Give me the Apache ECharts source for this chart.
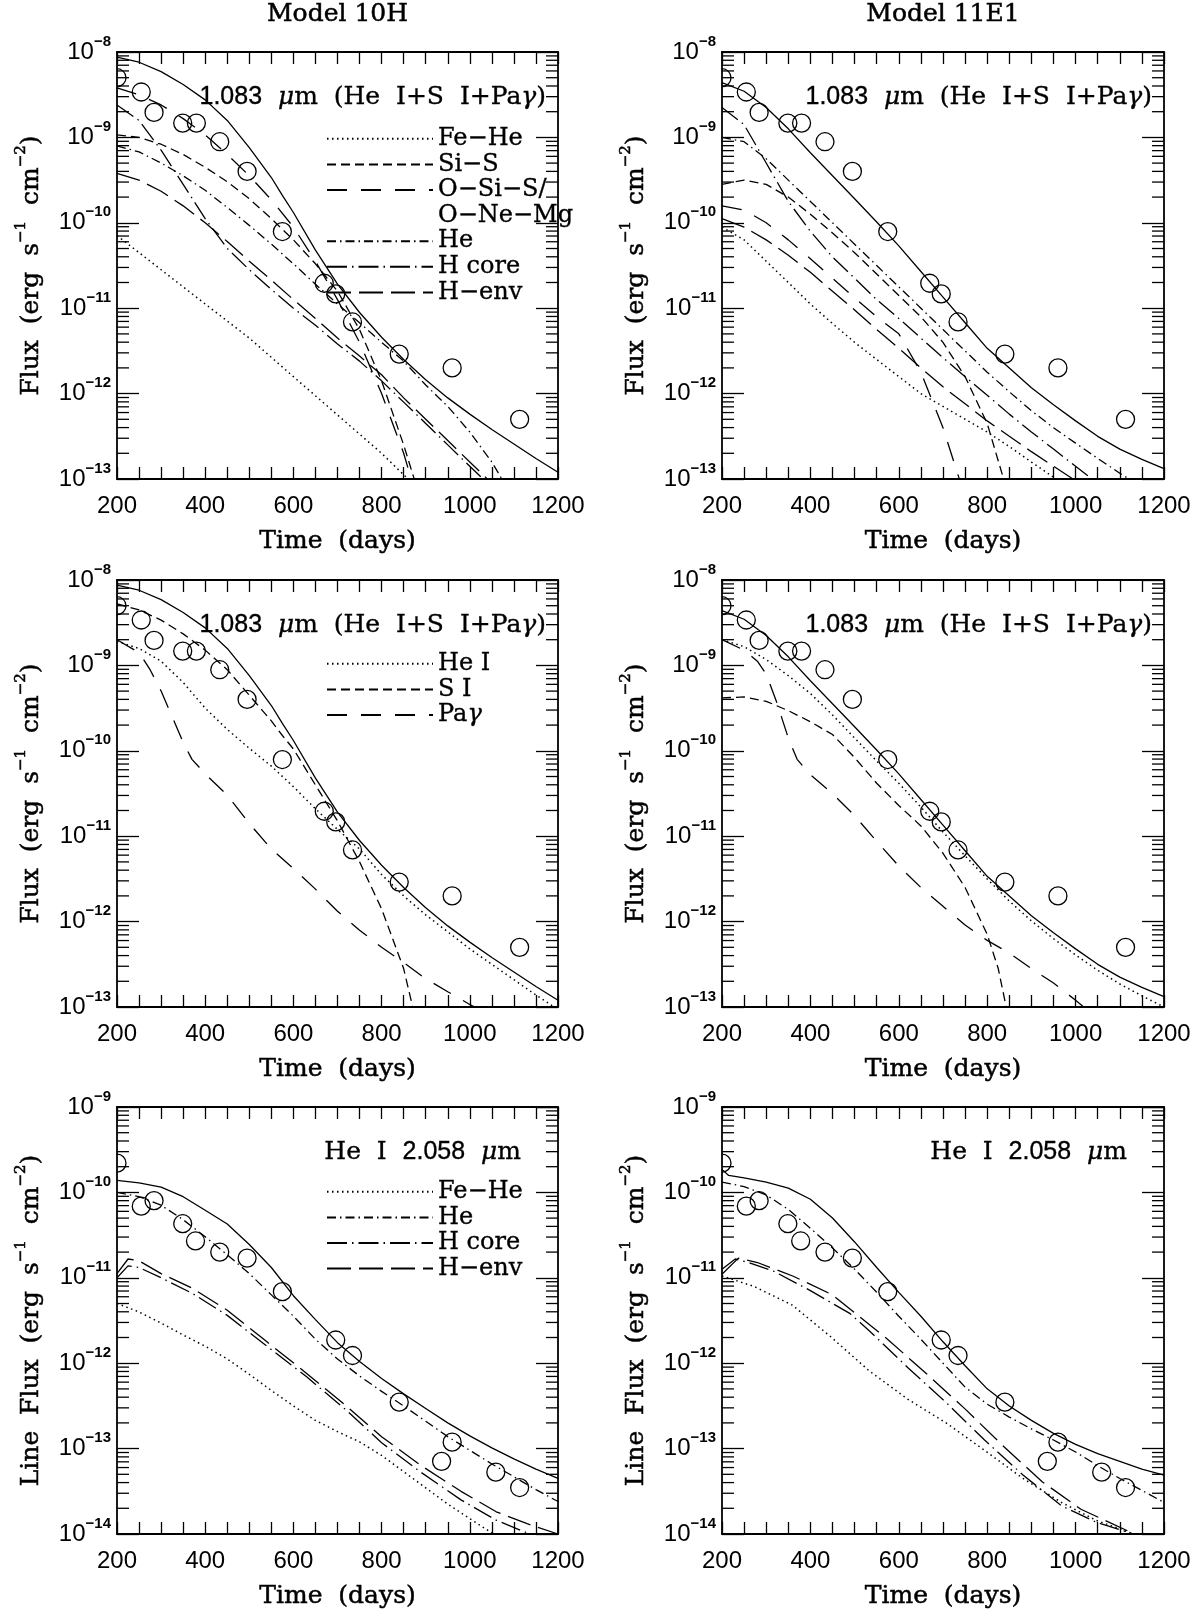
<!DOCTYPE html>
<html>
<head>
<meta charset="utf-8">
<title>He I 1.083 / 2.058 micron line fluxes</title>
<script src="https://cdn.jsdelivr.net/npm/echarts@6/dist/echarts.min.js"></script>
<style>
html,body{margin:0;padding:0;background:#ffffff;}
#chart{width:1203px;height:1613px;}
</style>
</head>
<body>
<div id="chart"></div>
<script>
// ---------------- observed points ----------------
const obs1083 = [[200,5.0e-9],[255,3.4e-9],[284,1.96e-9],[349,1.47e-9],[380,1.47e-9],[433,8.9e-10],[495,4.0e-10],[575,7.9e-11],[670,1.96e-11],[696,1.47e-11],[734,6.9e-12],[840,2.9e-12],[960,2.0e-12],[1113,5.0e-13]];
const obs2058 = [[200,2.2e-10],[255,6.9e-11],[284,8.0e-11],[349,4.3e-11],[378,2.7e-11],[433,2.0e-11],[495,1.7e-11],[575,6.9e-12],[696,1.87e-12],[734,1.23e-12],[840,3.5e-13],[936,7.1e-14],[960,1.19e-13],[1059,5.3e-14],[1113,3.5e-14]];

// ---------------- Model 10H, 1.083 micron ----------------
const m10H_total = [[200,8.71e-9],[250,7.59e-9],[300,5.89e-9],[350,4.17e-9],[400,2.75e-9],[450,1.58e-9],[500,7.59e-10],[550,3.39e-10],[575,2.09e-10],[600,1.32e-10],[650,4.79e-11],[700,1.91e-11],[750,8.91e-12],[800,4.57e-12],[850,2.51e-12],[900,1.45e-12],[950,8.91e-13],[1000,5.75e-13],[1050,3.80e-13],[1100,2.57e-13],[1150,1.74e-13],[1200,1.20e-13]];
const m10H_FeHe = [[200,7.08e-11],[250,4.47e-11],[300,2.82e-11],[400,1.12e-11],[500,4.47e-12],[600,1.58e-12],[700,5.62e-13],[800,2.0e-13],[850,1.12e-13],[870,8.91e-14]];
const m10H_SiS = [[200,1.07e-9],[250,1.0e-9],[300,8.32e-10],[350,6.31e-10],[400,4.47e-10],[450,3.02e-10],[500,1.91e-10],[550,1.12e-10],[600,6.31e-11],[650,3.31e-11],[700,1.58e-11],[750,5.62e-12],[800,1.41e-12],[850,2.51e-13],[880,7.94e-14]];
const m10H_OSiS = [[200,3.80e-9],[250,3.16e-9],[300,2.40e-9],[350,1.66e-9],[400,1.07e-9],[450,6.31e-10],[500,3.55e-10],[550,1.86e-10],[600,8.91e-11],[650,3.55e-11],[700,1.26e-11],[750,3.98e-12],[800,1.0e-12],[850,2.0e-13],[870,8.91e-14]];
const m10H_He = [[200,7.94e-10],[250,6.76e-10],[300,5.01e-10],[350,3.55e-10],[400,2.40e-10],[450,1.51e-10],[500,9.33e-11],[550,5.62e-11],[600,3.31e-11],[650,1.91e-11],[700,1.12e-11],[750,6.76e-12],[800,3.98e-12],[850,2.40e-12],[900,1.26e-12],[950,7.08e-13],[1000,3.55e-13],[1050,1.58e-13],[1075,9.55e-14]];
const m10H_Hcore = [[200,2.40e-9],[250,1.58e-9],[300,7.08e-10],[350,2.82e-10],[400,1.12e-10],[450,5.01e-11],[500,2.82e-11],[550,1.66e-11],[600,1.0e-11],[650,6.31e-12],[700,3.80e-12],[750,2.40e-12],[800,1.41e-12],[850,7.94e-13],[900,4.47e-13],[950,2.51e-13],[1000,1.41e-13],[1040,8.91e-14]];
const m10H_Henv = [[200,3.80e-10],[250,3.16e-10],[300,2.34e-10],[350,1.58e-10],[400,1.0e-10],[450,6.03e-11],[500,3.55e-11],[550,2.14e-11],[600,1.26e-11],[650,7.59e-12],[700,4.47e-12],[750,2.75e-12],[800,1.66e-12],[850,8.91e-13],[900,5.01e-13],[950,2.82e-13],[1000,1.58e-13],[1050,8.91e-14]];
const m10H_HeI = [[200,1.91e-9],[250,1.58e-9],[300,1.12e-9],[350,6.31e-10],[400,3.16e-10],[450,1.78e-10],[500,1.07e-10],[550,6.61e-11],[600,3.80e-11],[650,2.09e-11],[700,1.20e-11],[750,7.08e-12],[800,3.55e-12],[850,2.0e-12],[900,1.20e-12],[950,7.59e-13],[1000,4.79e-13],[1050,3.16e-13],[1100,2.09e-13],[1150,1.38e-13],[1200,9.33e-14]];
const m10H_SI = [[200,5.25e-9],[250,4.47e-9],[300,3.39e-9],[350,2.34e-9],[400,1.51e-9],[450,8.91e-10],[500,4.47e-10],[550,2.24e-10],[575,1.51e-10],[600,1.05e-10],[650,3.98e-11],[700,1.51e-11],[750,5.01e-12],[800,1.41e-12],[850,2.82e-13],[875,7.94e-14]];
const m10H_Pag = [[200,2.0e-9],[250,1.41e-9],[275,8.91e-10],[300,5.01e-10],[325,2.51e-10],[350,1.26e-10],[370,7.94e-11],[400,5.37e-11],[450,3.02e-11],[500,1.41e-11],[550,7.08e-12],[600,4.17e-12],[650,2.40e-12],[700,1.32e-12],[750,7.94e-13],[800,5.01e-13],[850,3.31e-13],[900,2.14e-13],[950,1.51e-13],[1000,1.07e-13],[1050,7.94e-14]];

// ---------------- Model 11E1, 1.083 micron ----------------
const m11E1_total = [[200,4.37e-9],[250,3.47e-9],[300,2.24e-9],[350,1.26e-9],[400,6.61e-10],[450,3.55e-10],[500,1.91e-10],[550,1.02e-10],[600,5.37e-11],[650,2.69e-11],[700,1.35e-11],[750,6.76e-12],[800,3.39e-12],[850,2.0e-12],[900,1.17e-12],[950,7.41e-13],[1000,4.79e-13],[1050,3.16e-13],[1100,2.24e-13],[1150,1.70e-13],[1200,1.32e-13]];
const m11E1_FeHe = [[200,8.91e-11],[250,6.31e-11],[300,3.55e-11],[350,2.0e-11],[400,1.12e-11],[450,6.61e-12],[500,3.98e-12],[550,2.51e-12],[600,1.58e-12],[650,1.0e-12],[700,7.08e-13],[750,5.01e-13],[800,3.55e-13],[850,2.40e-13],[900,1.58e-13],[950,1.05e-13],[980,8.32e-14]];
const m11E1_SiS = [[200,2.82e-10],[250,3.16e-10],[300,2.82e-10],[350,2.0e-10],[400,1.26e-10],[450,7.59e-11],[500,4.47e-11],[550,2.51e-11],[600,1.41e-11],[650,7.94e-12],[700,3.98e-12],[750,1.58e-12],[800,4.47e-13],[840,8.91e-14]];
const m11E1_OSiS = [[200,1.58e-10],[250,1.41e-10],[300,1.0e-10],[350,6.31e-11],[400,3.80e-11],[450,2.24e-11],[500,1.32e-11],[550,7.94e-12],[600,5.01e-12],[650,1.78e-12],[700,3.98e-13],[740,8.91e-14]];
const m11E1_He = [[200,1.0e-9],[250,8.91e-10],[300,5.62e-10],[350,3.16e-10],[400,1.78e-10],[450,1.0e-10],[500,5.62e-11],[550,3.16e-11],[600,1.78e-11],[650,1.0e-11],[700,5.62e-12],[750,3.16e-12],[800,1.78e-12],[850,1.05e-12],[900,6.31e-13],[950,3.98e-13],[1000,2.63e-13],[1050,1.74e-13],[1100,1.17e-13],[1130,9.33e-14]];
const m11E1_Hcore = [[200,2.24e-9],[250,1.41e-9],[300,5.01e-10],[350,1.78e-10],[400,7.94e-11],[450,3.98e-11],[500,2.24e-11],[550,1.26e-11],[600,7.59e-12],[650,4.47e-12],[700,2.63e-12],[750,1.58e-12],[800,9.55e-13],[850,5.75e-13],[900,3.55e-13],[950,2.24e-13],[1000,1.41e-13],[1050,8.91e-14]];
const m11E1_Henv = [[200,1.12e-10],[250,8.91e-11],[300,6.31e-11],[350,4.17e-11],[400,2.63e-11],[450,1.58e-11],[500,9.55e-12],[550,5.62e-12],[600,3.39e-12],[650,2.0e-12],[700,1.20e-12],[750,7.59e-13],[800,4.79e-13],[850,3.16e-13],[900,2.09e-13],[950,1.41e-13],[1000,9.55e-14]];
const m11E1_HeI = [[200,2.0e-9],[250,1.66e-9],[300,1.17e-9],[350,7.59e-10],[400,4.68e-10],[450,2.63e-10],[500,1.41e-10],[550,7.59e-11],[600,4.17e-11],[650,2.19e-11],[700,1.12e-11],[750,5.89e-12],[800,3.16e-12],[850,1.74e-12],[900,1.02e-12],[950,6.31e-13],[1000,4.07e-13],[1050,2.69e-13],[1100,1.86e-13],[1150,1.35e-13],[1200,1.0e-13]];
const m11E1_SI = [[200,4.17e-10],[250,4.27e-10],[300,3.80e-10],[350,2.95e-10],[400,2.19e-10],[450,1.55e-10],[500,8.32e-11],[550,4.17e-11],[600,2.29e-11],[650,1.32e-11],[700,6.31e-12],[750,2.51e-12],[800,7.08e-13],[825,2.82e-13],[845,8.91e-14]];
const m11E1_Pag = [[200,2.0e-9],[250,1.51e-9],[280,1.12e-9],[300,7.94e-10],[325,3.55e-10],[350,1.41e-10],[370,7.94e-11],[400,5.25e-11],[450,3.16e-11],[500,1.74e-11],[550,8.71e-12],[600,4.47e-12],[650,2.51e-12],[700,1.51e-12],[750,9.12e-13],[800,6.03e-13],[850,4.27e-13],[900,2.82e-13],[950,1.91e-13],[1000,1.20e-13],[1030,8.91e-14]];

// ---------------- He I 2.058 micron ----------------
const m10H_2um_total = [[200,1.38e-10],[250,1.29e-10],[300,1.15e-10],[350,8.91e-11],[400,6.17e-11],[450,4.27e-11],[500,2.45e-11],[550,1.32e-11],[600,6.17e-12],[650,3.24e-12],[700,1.74e-12],[750,1.05e-12],[800,6.61e-13],[850,4.37e-13],[900,2.95e-13],[950,2.0e-13],[1000,1.41e-13],[1050,1.02e-13],[1100,7.59e-14],[1150,5.75e-14],[1200,4.47e-14]];
const m10H_2um_FeHe = [[200,5.01e-12],[250,3.98e-12],[300,2.95e-12],[350,2.14e-12],[400,1.58e-12],[450,1.12e-12],[500,7.41e-13],[550,4.79e-13],[600,3.16e-13],[650,2.14e-13],[700,1.58e-13],[750,1.20e-13],[800,8.32e-14],[850,5.37e-14],[900,3.47e-14],[950,2.24e-14],[1000,1.51e-14],[1060,9.55e-15]];
const m10H_2um_He = [[200,1.0e-10],[250,8.91e-11],[300,7.08e-11],[350,4.79e-11],[400,3.02e-11],[450,1.86e-11],[500,1.12e-11],[550,6.31e-12],[600,3.55e-12],[650,1.91e-12],[700,1.12e-12],[750,7.08e-13],[800,4.68e-13],[850,3.16e-13],[900,2.09e-13],[950,1.38e-13],[1000,9.55e-14],[1050,6.61e-14],[1100,4.68e-14],[1150,3.31e-14],[1200,2.40e-14]];
const m10H_2um_Hcore = [[200,1.0e-11],[225,1.38e-11],[250,1.32e-11],[300,1.0e-11],[370,6.61e-12],[450,3.63e-12],[540,1.58e-12],[630,6.92e-13],[720,2.82e-13],[800,1.17e-13],[890,5.25e-14],[980,2.51e-14],[1060,1.45e-14],[1150,9.33e-15]];
const m10H_2um_Henv = [[200,1.12e-11],[225,1.66e-11],[250,1.58e-11],[300,1.12e-11],[370,7.59e-12],[450,4.17e-12],[540,1.78e-12],[630,7.59e-13],[720,3.16e-13],[800,1.38e-13],[890,6.31e-14],[980,3.16e-14],[1060,1.82e-14],[1130,1.32e-14],[1200,1.0e-14]];
const m11E1_2um_total = [[200,1.86e-10],[215,1.58e-10],[250,1.48e-10],[300,1.32e-10],[350,1.12e-10],[400,8.32e-11],[450,5.01e-11],[500,2.63e-11],[550,1.32e-11],[600,6.76e-12],[650,3.55e-12],[700,1.78e-12],[750,9.33e-13],[800,5.01e-13],[850,3.16e-13],[900,2.14e-13],[950,1.51e-13],[1000,1.12e-13],[1050,8.71e-14],[1100,7.08e-14],[1150,5.75e-14],[1200,4.90e-14]];
const m11E1_2um_FeHe = [[200,1.05e-11],[272,7.94e-12],[359,4.79e-12],[446,2.04e-12],[533,8.13e-13],[620,3.80e-13],[707,2.0e-13],[794,9.55e-14],[881,4.47e-14],[968,2.34e-14],[1046,1.45e-14],[1142,9.55e-15]];
const m11E1_2um_He = [[200,1.32e-10],[250,1.17e-10],[300,9.33e-11],[350,6.31e-11],[400,3.80e-11],[450,2.24e-11],[500,1.26e-11],[550,6.76e-12],[600,3.55e-12],[650,1.91e-12],[700,1.0e-12],[750,5.25e-13],[800,3.31e-13],[850,2.34e-13],[900,1.70e-13],[950,1.26e-13],[1000,9.12e-14],[1050,6.31e-14],[1100,4.47e-14],[1150,3.24e-14],[1200,2.34e-14]];
const m11E1_2um_Hcore = [[200,1.26e-11],[230,1.66e-11],[260,1.51e-11],[316,1.20e-11],[400,7.08e-12],[490,3.80e-12],[533,2.40e-12],[620,8.91e-13],[707,3.47e-13],[794,1.26e-13],[881,4.90e-14],[968,2.14e-14],[1046,1.38e-14],[1142,9.55e-15]];
const m11E1_2um_Henv = [[200,1.10e-11],[237,1.70e-11],[280,1.51e-11],[360,1.05e-11],[450,6.31e-12],[577,1.86e-12],[664,7.41e-13],[751,2.88e-13],[838,1.05e-13],[925,4.07e-14],[1012,1.95e-14],[1116,1.10e-14],[1140,9.55e-15]];

// ---------------- text ----------------
const modelTitles = ['Model 10H', 'Model 11E1'];
const xTitle = 'Time  (days)';
const yTitles = ['Flux  (erg  s{s|−1}  cm{s|−2})', 'Flux  (erg  s{s|−1}  cm{s|−2})', 'Line  Flux  (erg  s{s|−1}  cm{s|−2})'];
const lineLabels = ['{n|1.083}  {i|μ}m  (He  I+S  I+Pa{i|γ})', '{n|1.083}  {i|μ}m  (He  I+S  I+Pa{i|γ})', 'He  I  {n|2.058}  {i|μ}m'];
const xTickLabels = [200, 400, 600, 800, 1000, 1200];

// ---------------- styles ----------------
const SERIF = "'DejaVu Serif', 'Liberation Serif', serif";
const SANS = "'Liberation Sans', Arial, sans-serif";
const DASH = {
  solid: 'solid',
  dot: [1.5, 3.5],
  dash: [9, 5],
  longgap: [20, 14],
  dashdot: [9, 4, 1.5, 4],
  longdashdot: [20, 5, 1.5, 5],
  long: [24, 8]
};
// text stroke for ECharts text styles (axis names / legend)
const heavyTS = {textBorderColor: '#000', textBorderWidth: 0.5};
const mediumTS = {textBorderColor: '#000', textBorderWidth: 0.35};
// text stroke for zrender graphic texts
const heavyG = {stroke: '#000', lineWidth: 0.5};
const mediumG = {stroke: '#000', lineWidth: 0.35};

const panels = [
  {curves: [['Total', m10H_total, 'solid'], ['Fe−He', m10H_FeHe, 'dot'], ['Si−S', m10H_SiS, 'dash'], ['O−Si−S/', m10H_OSiS, 'longgap'], ['He', m10H_He, 'dashdot'], ['H core', m10H_Hcore, 'longdashdot'], ['H−env', m10H_Henv, 'long']], obs: obs1083},
  {curves: [['Total', m11E1_total, 'solid'], ['Fe−He', m11E1_FeHe, 'dot'], ['Si−S', m11E1_SiS, 'dash'], ['O−Si−S/', m11E1_OSiS, 'longgap'], ['He', m11E1_He, 'dashdot'], ['H core', m11E1_Hcore, 'longdashdot'], ['H−env', m11E1_Henv, 'long']], obs: obs1083},
  {curves: [['Total', m10H_total, 'solid'], ['He I', m10H_HeI, 'dot'], ['S I', m10H_SI, 'dash'], ['Paγ', m10H_Pag, 'longgap']], obs: obs1083},
  {curves: [['Total', m11E1_total, 'solid'], ['He I', m11E1_HeI, 'dot'], ['S I', m11E1_SI, 'dash'], ['Paγ', m11E1_Pag, 'longgap']], obs: obs1083},
  {curves: [['Total', m10H_2um_total, 'solid'], ['Fe−He', m10H_2um_FeHe, 'dot'], ['He', m10H_2um_He, 'dashdot'], ['H core', m10H_2um_Hcore, 'longdashdot'], ['H−env', m10H_2um_Henv, 'long']], obs: obs2058},
  {curves: [['Total', m11E1_2um_total, 'solid'], ['Fe−He', m11E1_2um_FeHe, 'dot'], ['He', m11E1_2um_He, 'dashdot'], ['H core', m11E1_2um_Hcore, 'longdashdot'], ['H−env', m11E1_2um_Henv, 'long']], obs: obs2058}
];

// ---------------- layout ----------------
const COLS = [{left: 117, width: 441}, {left: 722, width: 442}];
const ROWS = [
  {top: 52, lo: -13, hi: -8, labelInset: 12},
  {top: 580, lo: -13, hi: -8, labelInset: 12},
  {top: 1107, lo: -14, hi: -9, labelInset: 37}
];
const PH = 427;

const grids = [], xAxes = [], yAxes = [], series = [], graphics = [];

function yLabel(v) {
  const e = Math.round(Math.log10(v));
  return '{b|10}{s|' + (e < 0 ? '−' : '') + Math.abs(e) + '}';
}
function minorTickData(lo, hi) {
  const out = [];
  for (let e = lo; e < hi; e++) for (let k = 2; k <= 9; k++) out.push([200, k * Math.pow(10, e)]);
  return out;
}

panels.forEach((p, i) => {
  const r = ROWS[Math.floor(i / 2)], c = COLS[i % 2];
  const ymin = Math.pow(10, r.lo), ymax = Math.pow(10, r.hi);
  grids.push({left: c.left, top: r.top, width: c.width, height: PH, containLabel: false, outerBoundsMode: 'none', show: false});
  const axLine = {show: true, onZero: false, lineStyle: {color: '#000', width: 1.8}};
  xAxes.push({
    type: 'value', gridIndex: i, position: 'bottom', min: 200, max: 1200, interval: 50,
    axisLine: axLine, splitLine: {show: false},
    axisTick: {show: true, inside: true, length: 12, lineStyle: {color: '#000', width: 1.3}},
    axisLabel: {show: true, margin: 15, color: '#000', fontFamily: SANS, fontSize: 24,
      formatter: v => (xTickLabels.indexOf(v) >= 0 ? String(v) : '')},
    name: xTitle, nameLocation: 'middle', nameGap: 47,
    nameTextStyle: Object.assign({fontFamily: SERIF, fontSize: 25, color: '#000', lineHeight: 30}, heavyTS)
  });
  xAxes.push({
    type: 'value', gridIndex: i, position: 'top', min: 200, max: 1200, interval: 50,
    axisLine: axLine, splitLine: {show: false}, axisLabel: {show: false},
    axisTick: {show: true, inside: true, length: 12, lineStyle: {color: '#000', width: 1.3}}
  });
  yAxes.push({
    type: 'log', logBase: 10, gridIndex: i, position: 'left', min: ymin, max: ymax, splitNumber: 5,
    axisLine: axLine, splitLine: {show: false}, minorTick: {show: false},
    axisTick: {show: true, inside: true, length: 22, lineStyle: {color: '#000', width: 1.3}},
    axisLabel: {show: true, margin: 6, formatter: yLabel, color: '#000',
      rich: {
        b: {fontFamily: SANS, fontSize: 24, color: '#000', lineHeight: 36},
        s: {fontFamily: SANS, fontSize: 15, fontWeight: 'bold', color: '#000', lineHeight: 16, verticalAlign: 'top'}
      }},
    name: yTitles[Math.floor(i / 2)], nameLocation: 'middle', nameGap: 69, nameRotate: 90,
    nameTextStyle: Object.assign({fontFamily: SERIF, fontSize: 25, color: '#000', lineHeight: 34,
      rich: {s: Object.assign({fontFamily: SERIF, fontSize: 15, color: '#000', lineHeight: 15, verticalAlign: 'top'}, heavyTS)}}, heavyTS)
  });
  yAxes.push({
    type: 'log', logBase: 10, gridIndex: i, position: 'right', min: ymin, max: ymax, splitNumber: 5,
    axisLine: axLine, splitLine: {show: false}, axisLabel: {show: false}, minorTick: {show: false},
    axisTick: {show: true, inside: true, length: 22, lineStyle: {color: '#000', width: 1.3}}
  });

  const xi = 2 * i, yi = 2 * i;
  // minor log ticks (left & right frame)
  series.push({
    type: 'custom', xAxisIndex: xi, yAxisIndex: yi, data: minorTickData(r.lo, r.hi), silent: true, clip: false, z: 2,
    animation: false,
    renderItem: (params, api) => {
      const pt = api.coord([api.value(0), api.value(1)]);
      const cs = params.coordSys;
      return {type: 'group', children: [
        {type: 'line', shape: {x1: cs.x, y1: pt[1], x2: cs.x + 12, y2: pt[1]}, style: {stroke: '#000', lineWidth: 1.3}},
        {type: 'line', shape: {x1: cs.x + cs.width - 12, y1: pt[1], x2: cs.x + cs.width, y2: pt[1]}, style: {stroke: '#000', lineWidth: 1.3}}
      ]};
    }
  });
  // model curves
  p.curves.forEach(cv => {
    series.push({
      type: 'line', name: cv[0], data: cv[1], xAxisIndex: xi, yAxisIndex: yi,
      symbol: 'none', showSymbol: false, clip: true, silent: true, animation: false, z: 3,
      lineStyle: {color: '#000', width: cv[2] === 'dot' ? 1.5 : 1.3, type: DASH[cv[2]]}
    });
  });
  // observations (open circles)
  series.push({
    type: 'custom', name: 'Observed', data: p.obs, xAxisIndex: xi, yAxisIndex: yi, clip: true, silent: true, z: 4,
    animation: false,
    renderItem: (params, api) => {
      const pt = api.coord([api.value(0), api.value(1)]);
      return {type: 'circle', shape: {cx: pt[0], cy: pt[1], r: 9}, style: {fill: 'none', stroke: '#000', lineWidth: 1.3}};
    }
  });

  // panel label
  graphics.push({
    type: 'text', x: c.left + c.width - r.labelInset, y: r.top + 45,
    style: Object.assign({text: lineLabels[Math.floor(i / 2)], align: 'right', verticalAlign: 'middle', fill: '#000',
      fontFamily: SERIF, fontSize: 25,
      rich: {n: Object.assign({fontFamily: SANS, fontSize: 25, fill: '#000'}, mediumG),
             i: Object.assign({fontFamily: SERIF, fontStyle: 'italic', fontSize: 25, fill: '#000'}, mediumG)}}, mediumG),
    z: 10
  });
  if (i < 2) {
    graphics.push({
      type: 'text', x: c.left + c.width / 2, y: 14,
      style: Object.assign({text: modelTitles[i], align: 'center', verticalAlign: 'middle', fill: '#000', fontFamily: SERIF, fontSize: 25}, heavyG),
      z: 10
    });
  }
});

// dummy series so the second line of the "O-Si-S/ O-Ne-Mg" legend entry can be shown
series.push({type: 'line', name: 'O−Ne−Mg', data: [], xAxisIndex: 0, yAxisIndex: 0, symbol: 'none', silent: true});

const legendCommon = {
  orient: 'vertical', align: 'left', left: 326, itemWidth: 106, itemHeight: 4, itemGap: 0, padding: 0,
  selectedMode: false, itemStyle: {opacity: 0},
  textStyle: Object.assign({fontFamily: SERIF, fontSize: 24, color: '#000', lineHeight: 25.6,
    rich: {g: Object.assign({fontFamily: SERIF, fontStyle: 'italic', fontSize: 24, color: '#000', lineHeight: 25.6}, mediumTS)}}, mediumTS),
  formatter: n => (n === 'Paγ' ? 'Pa{g|γ}' : n)
};
const legends = [
  Object.assign({}, legendCommon, {top: 126, data: ['Fe−He', 'Si−S', 'O−Si−S/', {name: 'O−Ne−Mg', icon: 'none'}, 'He', 'H core', 'H−env']}),
  Object.assign({}, legendCommon, {top: 651, data: ['He I', 'S I', 'Paγ']}),
  Object.assign({}, legendCommon, {top: 1179, data: ['Fe−He', 'He', 'H core', 'H−env']})
];

const chart = echarts.init(document.getElementById('chart'), null, {renderer: 'canvas'});
chart.setOption({
  backgroundColor: '#ffffff',
  animation: false,
  grid: grids,
  xAxis: xAxes,
  yAxis: yAxes,
  legend: legends,
  series: series,
  graphic: graphics
});
</script>
</body>
</html>
